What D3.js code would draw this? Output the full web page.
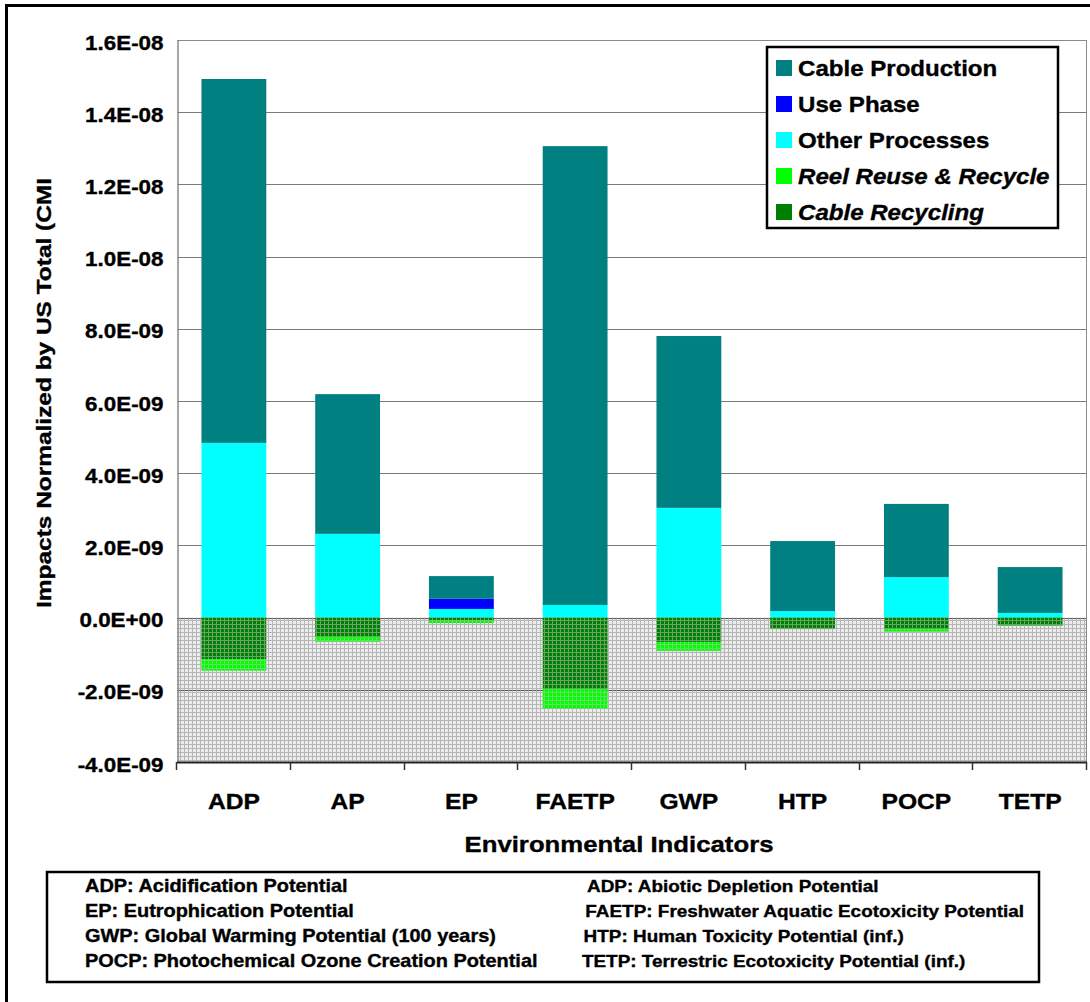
<!DOCTYPE html>
<html>
<head>
<meta charset="utf-8">
<script src="https://cdn.jsdelivr.net/npm/d3@7"></script>
<style>
  html, body { margin: 0; padding: 0; background: #fff; }
  svg { display: block; }
  text { font-family: "Liberation Sans", Arial, sans-serif; font-weight: bold; fill: #000; stroke: #000; stroke-width: 0.35px; }
</style>
</head>
<body>
<svg id="chart" width="1090" height="1002"></svg>
<script>
// ---------------- DATA ----------------
const categories = ["ADP", "AP", "EP", "FAETP", "GWP", "HTP", "POCP", "TETP"];
const seriesNames = ["Cable Production", "Use Phase", "Other Processes", "Reel Reuse & Recycle", "Cable Recycling"];
const cableProduction = [10.08e-9, 3.87e-9, 0.63e-9, 12.71e-9, 4.76e-9, 1.94e-9, 2.03e-9, 1.27e-9];
const usePhase        = [0, 0, 0.28e-9, 0, 0, 0, 0, 0];
const otherProcesses  = [4.84e-9, 2.32e-9, 0.24e-9, 0.35e-9, 3.04e-9, 0.18e-9, 1.12e-9, 0.13e-9];
const reelReuse       = [-0.32e-9, -0.13e-9, -0.07e-9, -0.55e-9, -0.24e-9, -0.01e-9, -0.07e-9, -0.01e-9];
const cableRecycling  = [-1.15e-9, -0.54e-9, -0.08e-9, -1.98e-9, -0.68e-9, -0.31e-9, -0.32e-9, -0.22e-9];
const yTickValues = [-4e-9, -2e-9, 0, 2e-9, 4e-9, 6e-9, 8e-9, 1e-8, 1.2e-8, 1.4e-8, 1.6e-8];
const abbrevLeft  = ["ADP: Acidification Potential", "EP: Eutrophication Potential",
                     "GWP: Global Warming Potential (100 years)", "POCP: Photochemical Ozone Creation Potential"];
const abbrevRight = ["ADP: Abiotic Depletion Potential", "FAETP: Freshwater Aquatic Ecotoxicity Potential",
                     "HTP: Human Toxicity Potential (inf.)", "TETP: Terrestric Ecotoxicity Potential (inf.)"];
const xTitle = "Environmental Indicators";
const yTitle = "Impacts Normalized by US Total (CMI";

// ---------------- STYLE ----------------
const colors = {
  "Cable Production": "#008080",
  "Use Phase": "#0000FF",
  "Other Processes": "#00FFFF",
  "Reel Reuse & Recycle": "#00FF00",
  "Cable Recycling": "#008000"
};
const italicSeries = new Set(["Reel Reuse & Recycle", "Cable Recycling"]);
const SX = 1.12; // horizontal glyph stretch of the original rendering

const svg = d3.select("#chart");
const W = 1090, H = 1002;
const plot = { left: 177, right: 1087, top: 40, bottom: 762 };

// outer frame
svg.append("rect").attr("x", 6.5).attr("y", 5.5).attr("width", W + 20).attr("height", H + 20)
  .attr("fill", "#fff").attr("stroke", "#000").attr("stroke-width", 3);

const defs = svg.append("defs");
const pb = defs.append("pattern").attr("id", "hatchBg").attr("patternUnits", "userSpaceOnUse")
  .attr("width", 4).attr("height", 4);
pb.append("rect").attr("width", 4).attr("height", 4).attr("fill", "#ececec");
pb.append("path").attr("d", "M0.5,0V4M0,0.5H4").attr("stroke", "#adadad").attr("stroke-width", 1);
const po = defs.append("pattern").attr("id", "hatchOv").attr("patternUnits", "userSpaceOnUse")
  .attr("width", 4).attr("height", 4);
po.append("path").attr("d", "M0.5,0V4M0,0.5H4").attr("stroke", "#bdbdbd").attr("stroke-width", 1);

// scales
const x = d3.scaleBand().domain(categories).range([plot.left, plot.right]).paddingInner(0.43).paddingOuter(0.215);
const xEdge = d3.scaleBand().domain(categories).range([plot.left, plot.right]).padding(0);
const y = d3.scaleLinear().domain([-4e-9, 1.6e-8]).range([plot.bottom, plot.top]);

// plot background
svg.append("rect").attr("x", plot.left).attr("y", plot.top)
  .attr("width", plot.right - plot.left).attr("height", plot.bottom - plot.top).attr("fill", "#fff");
// negative region pattern
svg.append("rect").attr("x", plot.left).attr("y", y(0))
  .attr("width", plot.right - plot.left).attr("height", y(-4e-9) - y(0)).attr("fill", "url(#hatchBg)");

// gridlines
svg.append("g").selectAll("line").data(yTickValues).join("line")
  .attr("x1", plot.left).attr("x2", plot.right)
  .attr("y1", d => Math.round(y(d)) + 0.5).attr("y2", d => Math.round(y(d)) + 0.5)
  .attr("stroke", d => d <= 0 ? "#5a5a5a" : "#7a7a7a").attr("stroke-width", 1);

// stacked data
const rows = categories.map((c, i) => ({
  cat: c,
  "Other Processes": otherProcesses[i],
  "Use Phase": usePhase[i],
  "Cable Production": cableProduction[i],
  "Cable Recycling": cableRecycling[i],
  "Reel Reuse & Recycle": reelReuse[i]
}));
const stackKeys = ["Other Processes", "Use Phase", "Cable Production", "Cable Recycling", "Reel Reuse & Recycle"];
const stacked = d3.stack().keys(stackKeys).offset(d3.stackOffsetDiverging)(rows);

svg.append("g").selectAll("g").data(stacked).join("g")
  .attr("fill", s => colors[s.key])
  .selectAll("rect").data(s => s).join("rect")
  .attr("x", d => x(d.data.cat))
  .attr("width", x.bandwidth())
  .attr("y", d => y(Math.max(d[0], d[1])))
  .attr("height", d => Math.abs(y(d[0]) - y(d[1])));

// overlay pattern on negative region
svg.append("rect").attr("x", plot.left).attr("y", y(0))
  .attr("width", plot.right - plot.left).attr("height", y(-4e-9) - y(0))
  .attr("fill", "url(#hatchOv)").attr("opacity", 0.55);

// plot frame lines (top and right)
svg.append("line").attr("x1", plot.left).attr("x2", plot.right).attr("y1", plot.top + 0.5).attr("y2", plot.top + 0.5)
  .attr("stroke", "#8a8a8a");
svg.append("line").attr("x1", plot.right - 0.5).attr("x2", plot.right - 0.5).attr("y1", plot.top).attr("y2", plot.bottom)
  .attr("stroke", "#8a8a8a");

// y axis
const fmt = d => {
  if (d === 0) return "0.0E+00";
  const [m, e] = d.toExponential(1).split("e");
  const ev = parseInt(e, 10);
  return m + "E" + (ev < 0 ? "-" : "+") + String(Math.abs(ev)).padStart(2, "0");
};
const yAxis = svg.append("g").attr("transform", `translate(${plot.left + 0.5},0)`)
  .call(d3.axisLeft(y).tickValues(yTickValues).tickFormat(fmt).tickSize(0).tickPadding(14));
yAxis.select(".domain").attr("stroke", "#8a8a8a").attr("stroke-width", 1.5);
yAxis.selectAll("text")
  .attr("font-family", "Liberation Sans, Arial, sans-serif").attr("font-weight", "bold")
  .attr("font-size", 20).attr("fill", "#000")
  .attr("x", -14 / SX).attr("dy", "0.45em")
  .attr("transform", `scale(${SX},1)`);

// x axis (labels)
const xAxis = svg.append("g").attr("transform", `translate(0,${plot.bottom})`)
  .call(d3.axisBottom(x).tickSize(0).tickPadding(30));
xAxis.select(".domain").remove();
xAxis.selectAll("text")
  .attr("font-family", "Liberation Sans, Arial, sans-serif").attr("font-weight", "bold")
  .attr("font-size", 22).attr("fill", "#000")
  .attr("y", 0).attr("dy", 47)
  .attr("transform", `scale(${SX},1)`);
xAxis.selectAll(".tick").each(function () {
  const t = d3.select(this);
  const tr = t.attr("transform");
  const xv = +tr.match(/translate\(([-\d.]+)/)[1];
  t.attr("transform", `translate(${xv},0)`);
});
// x axis line + boundary ticks
svg.append("line").attr("x1", plot.left).attr("x2", plot.right)
  .attr("y1", plot.bottom + 0.5).attr("y2", plot.bottom + 0.5).attr("stroke", "#222").attr("stroke-width", 2);
const edges = categories.map(c => xEdge(c)).concat([plot.right]);
svg.append("g").selectAll("line").data(edges).join("line")
  .attr("x1", d => Math.round(d) - 0.5).attr("x2", d => Math.round(d) - 0.5)
  .attr("y1", plot.bottom).attr("y2", plot.bottom + 8)
  .attr("stroke", "#333").attr("stroke-width", 1.5);

// axis titles
svg.append("text").attr("transform", `translate(619,852) scale(${SX},1)`)
  .attr("text-anchor", "middle").attr("font-size", 23).text(xTitle);
svg.append("text").attr("transform", "translate(51,393) rotate(-90)")
  .attr("text-anchor", "middle").attr("font-size", 20)
  .attr("textLength", 430).attr("lengthAdjust", "spacingAndGlyphs").text(yTitle);

// legend
const lg = svg.append("g");
lg.append("rect").attr("x", 767).attr("y", 47).attr("width", 291).attr("height", 181)
  .attr("fill", "#fff").attr("stroke", "#000").attr("stroke-width", 2.5);
const legendY = d3.scalePoint().domain(seriesNames).range([68, 212]);
seriesNames.forEach(n => {
  lg.append("rect").attr("x", 776).attr("y", legendY(n) - 8).attr("width", 16).attr("height", 16)
    .attr("fill", colors[n]);
  lg.append("text").attr("transform", `translate(798,${legendY(n) + 7.5}) scale(${SX},1)`)
    .attr("font-size", 21.5).attr("font-style", italicSeries.has(n) ? "italic" : "normal").text(n);
});

// abbreviation box
const ab = svg.append("g");
ab.append("rect").attr("x", 47).attr("y", 872).attr("width", 992).attr("height", 110)
  .attr("fill", "#fff").attr("stroke", "#000").attr("stroke-width", 2.5);
const rowY = d3.scalePoint().domain(d3.range(4)).range([892, 967]);
abbrevLeft.forEach((t, i) => {
  ab.append("text").attr("transform", `translate(85,${rowY(i)}) scale(${SX},1)`)
    .attr("font-size", 17.8).text(t);
});
abbrevRight.forEach((t, i) => {
  ab.append("text").attr("transform", `translate(${587 - i * 1.7},${rowY(i)}) scale(${SX},1)`)
    .attr("font-size", 16.9).text(t);
});
</script>
</body>
</html>
